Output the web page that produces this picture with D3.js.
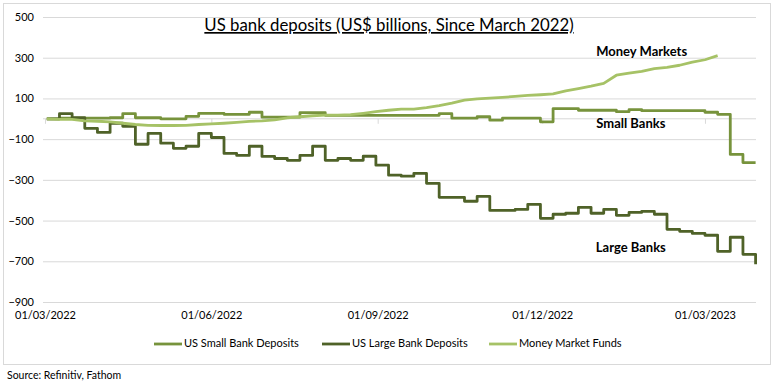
<!DOCTYPE html>
<html>
<head>
<meta charset="utf-8">
<script src="https://cdn.jsdelivr.net/npm/d3@7"></script>
<style>
  body { margin: 0; background: #fff; }
  svg text { font-family: Lato, "Open Sans", sans-serif; fill: #000; }
</style>
</head>
<body>
<svg id="chart" width="775" height="384"></svg>
<script>
// weekly (Wednesday) observations, change since March 2022, US$ bn
const firstWeek = '2022-03-02';
const smallBanks = [0, 3, 3, 3, 3, 5, 25, 5, 5, 0, 0, 12, 27, 27, 22, 22, 32, 8, 8, 8,
    30, 30, 17, 17, 17, 17, 17, 17, 17, 17, 17, 25, 3, 3, 10, -7, 3, 3, 3, -15,
    50, 50, 42, 42, 42, 35, 45, 40, 40, 40, 40, 40, 32, 22, -175, -215, -215];
const largeBanks = [0, 25, 5, -47, -67, -22, -37, -125, -72, -120, -145, -135, -72, -92, -170, -180, -135, -185, -195, -204,
    -180, -135, -204, -195, -204, -184, -228, -277, -282, -268, -317, -386, -386, -405, -381, -450, -450, -445, -420, -489,
    -469, -464, -435, -464, -445, -474, -460, -455, -469, -543, -553, -563, -572, -651, -582, -666, -715];
const moneyMarkets = [0, -3, -3, -10, -12, -15, -22, -28, -32, -33, -33, -32, -28, -25, -22, -18, -13, -10, -5, 5,
    10, 15, 18, 18, 20, 27, 35, 42, 47, 47, 55, 65, 77, 92, 98, 101, 105, 110, 115, 118,
    122, 137, 148, 160, 174, 214, 224, 233, 246, 253, 263, 278, 290, 310];

const yTicks = [500, 300, 100, -100, -300, -500, -700, -900];
const xTickLabels = ['01/03/2022', '01/06/2022', '01/09/2022', '01/12/2022', '01/03/2023'];
const seriesNames = ['US Small Bank Deposits', 'US Large Bank Deposits', 'Money Market Funds'];
const seriesColors = ['#77933c', '#4f6228', '#a6c266'];
const labelNames = ['Money Markets', 'Small Banks', 'Large Banks'];
const labelDates = ['2023-01-25', '2023-01-19', '2023-01-19'];
const labelValues = [327, -27, -636];

const svg = d3.select('#chart');
const parse = d3.timeParse('%Y-%m-%d');
const parseLabel = d3.timeParse('%d/%m/%Y');

const gridLeft = 43;
const gridRight = 756;

const x = d3.scaleTime()
    .domain([parse('2022-03-01'), parse('2023-03-29')])
    .range([45, 755.6]);
const y = d3.scaleLinear()
    .domain([-900, 500])
    .range([302, 17]);

const weekDate = i => d3.timeDay.offset(parse(firstWeek), 7 * i);

// outer frame
svg.append('rect')
    .attr('x', 3.5).attr('y', 3.5)
    .attr('width', 767).attr('height', 361)
    .attr('fill', 'none')
    .attr('stroke', '#d9d9d9');

// gridlines + y labels
const yAxis = svg.append('g')
    .attr('transform', `translate(${gridLeft},0)`)
    .call(d3.axisLeft(y).tickValues(yTicks).tickSize(-(gridRight - gridLeft)).tickPadding(9));
yAxis.select('.domain').remove();
yAxis.selectAll('line').attr('stroke', '#d9d9d9');
yAxis.selectAll('text').attr('font-size', 11).style('font-family', 'Lato, sans-serif');

// category axis crossing at zero
const tickDates = xTickLabels.map(parseLabel);
const zeroAxis = svg.append('g')
    .attr('transform', `translate(0,${y(0)})`)
    .call(d3.axisBottom(x).tickValues(tickDates).tickSize(5).tickFormat(''));
zeroAxis.select('.domain').attr('stroke', '#d9d9d9').attr('d', `M${gridLeft},0H${gridRight}`);
zeroAxis.selectAll('line').attr('stroke', '#d9d9d9');

// date labels below plot
const xAxis = svg.append('g')
    .attr('transform', `translate(0,${y(-900)})`)
    .call(d3.axisBottom(x).tickValues(tickDates).tickSize(0).tickPadding(9)
        .tickFormat(d3.timeFormat('%d/%m/%Y')));
xAxis.select('.domain').remove();
xAxis.selectAll('text').attr('font-size', 11).style('font-family', 'Lato, sans-serif');

// series
const stepLine = d3.line()
    .x((d, i) => x(weekDate(i)))
    .y(d => y(d))
    .curve(d3.curveStepAfter);
const smoothLine = d3.line()
    .x((d, i) => x(weekDate(i)))
    .y(d => y(d));

const series = [
    { values: smallBanks, gen: stepLine },
    { values: largeBanks, gen: stepLine },
    { values: moneyMarkets, gen: smoothLine }
];

svg.append('g').selectAll('path')
    .data(series)
    .join('path')
    .attr('d', d => d.gen(d.values))
    .attr('fill', 'none')
    .attr('stroke', (d, i) => seriesColors[i])
    .attr('stroke-width', 2.8)
    .attr('stroke-linejoin', 'round');

// in-chart labels
svg.append('g').selectAll('text')
    .data(labelNames)
    .join('text')
    .attr('x', (d, i) => x(parse(labelDates[i])))
    .attr('y', (d, i) => y(labelValues[i]))
    .attr('text-anchor', 'middle')
    .attr('dominant-baseline', 'middle')
    .attr('font-size', 13)
    .attr('font-weight', 'bold')
    .text(d => d);

// title
svg.append('text')
    .attr('x', 389)
    .attr('y', 31)
    .attr('text-anchor', 'middle')
    .attr('font-size', 16.8)
    .attr('text-decoration', 'underline')
    .text('US bank deposits (US$ billions, Since March 2022)');

// legend
const legendX = [154, 322, 489];
const legend = svg.append('g').selectAll('g')
    .data(seriesNames)
    .join('g')
    .attr('transform', (d, i) => `translate(${legendX[i]},344)`);
legend.append('line')
    .attr('x1', 0).attr('x2', 28)
    .attr('stroke', (d, i) => seriesColors[i])
    .attr('stroke-width', 2.8);
legend.append('text')
    .attr('x', 30)
    .attr('dominant-baseline', 'middle')
    .attr('font-size', 11)
    .text(d => d);

// source
svg.append('text')
    .attr('x', 7)
    .attr('y', 379)
    .attr('font-size', 10.5)
    .text('Source: Refinitiv, Fathom');
</script>
</body>
</html>
